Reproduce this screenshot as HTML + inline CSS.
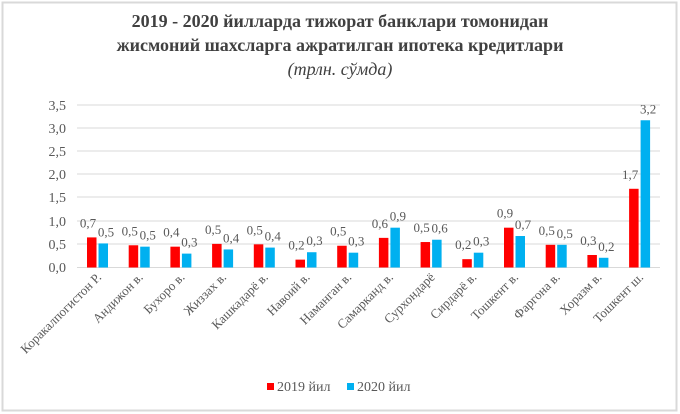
<!DOCTYPE html>
<html><head><meta charset="utf-8"><style>
html,body{margin:0;padding:0;background:#fff;}
svg{display:block;}
svg text{font-family:"Liberation Serif","Times New Roman",serif;}
</style></head><body>
<svg width="680" height="414" viewBox="0 0 680 414" xmlns="http://www.w3.org/2000/svg">
<rect x="2.5" y="2.5" width="674" height="408" fill="#fff" stroke="#d9d9d9" stroke-width="2"/>
<text x="340" y="27" text-anchor="middle" font-size="18" font-weight="bold" fill="#404040">2019 - 2020 йилларда тижорат банклари томонидан</text>
<text x="340" y="51" text-anchor="middle" font-size="18" font-weight="bold" fill="#404040">жисмоний шахсларга ажратилган ипотека кредитлари</text>
<text x="340" y="75" text-anchor="middle" font-size="18" font-style="italic" fill="#404040">(трлн. сўмда)</text>
<g stroke="#d9d9d9" stroke-width="1">
<line x1="77" x2="660" y1="105" y2="105"/><line x1="77" x2="660" y1="128" y2="128"/>
<line x1="77" x2="660" y1="151" y2="151"/><line x1="77" x2="660" y1="174" y2="174"/>
<line x1="77" x2="660" y1="197" y2="197"/><line x1="77" x2="660" y1="221" y2="221"/>
<line x1="77" x2="660" y1="244" y2="244"/><line x1="77" x2="660" y1="267.5" y2="267.5"/>
</g>
<g font-size="14" fill="#595959" text-anchor="end">
<text x="66" y="110">3,5</text><text x="66" y="133">3,0</text><text x="66" y="156">2,5</text>
<text x="66" y="179">2,0</text><text x="66" y="202">1,5</text><text x="66" y="226">1,0</text>
<text x="66" y="249">0,5</text><text x="66" y="272">0,0</text>
</g>
<g id="bars"></g>
<g id="labels" font-size="13" fill="#595959"></g>
<g id="cats" font-size="13" fill="#595959"></g>
<rect x="267" y="383" width="7" height="7" fill="#ff0000"/>
<text x="277" y="391" font-size="14" fill="#595959">2019 йил</text>
<rect x="347" y="383" width="7" height="7" fill="#00b0f0"/>
<text x="357" y="391" font-size="14" fill="#595959">2020 йил</text>
<script>
var r=[0.65,0.48,0.45,0.51,0.50,0.17,0.47,0.64,0.55,0.18,0.86,0.49,0.27,1.70];
var b=[0.52,0.45,0.30,0.39,0.43,0.33,0.32,0.86,0.60,0.32,0.68,0.49,0.21,3.18];
var rl=["0,7","0,5","0,4","0,5","0,5","0,2","0,5","0,6","0,5","0,2","0,9","0,5","0,3","1,7"];
var bl=["0,5","0,5","0,3","0,4","0,4","0,3","0,3","0,9","0,6","0,3","0,7","0,5","0,2","3,2"];
var cats=["Коракалпогистон Р.","Андижон в.","Бухоро в.","Жиззах в.","Кашкадарё в.","Навоий в.","Наманган в.","Самарканд в.","Сурхондарё","Сирдарё в.","Тошкент в.","Фаргона в.","Хоразм в.","Тошкент ш."];
var ns="http://www.w3.org/2000/svg",B=document.getElementById("bars"),L=document.getElementById("labels"),C=document.getElementById("cats");
function el(t,a,p,tx){var e=document.createElementNS(ns,t);for(var k in a)e.setAttribute(k,a[k]);if(tx)e.textContent=tx;p.appendChild(e);return e;}
var y0=267.5,s=46.3;
for(var i=0;i<14;i++){var c=97+41.7*i;
var hr=r[i]*s,hb=b[i]*s;
el("rect",{x:c-10,y:y0-hr,width:9.5,height:hr,fill:"#ff0000"},B);
el("rect",{x:c+1.5,y:y0-hb,width:9.5,height:hb,fill:"#00b0f0"},B);
el("text",{x:c-9,y:y0-hr-10,"text-anchor":"middle"},L,rl[i]);
el("text",{x:c+9,y:y0-Math.max(hb,hr*0.6)-7,"text-anchor":"middle"},L,bl[i]);
el("text",{x:0,y:0,"text-anchor":"end",transform:"translate("+(c+5)+",278) rotate(-45)"},C,cats[i]);
}
</script>
</svg>
</body></html>
